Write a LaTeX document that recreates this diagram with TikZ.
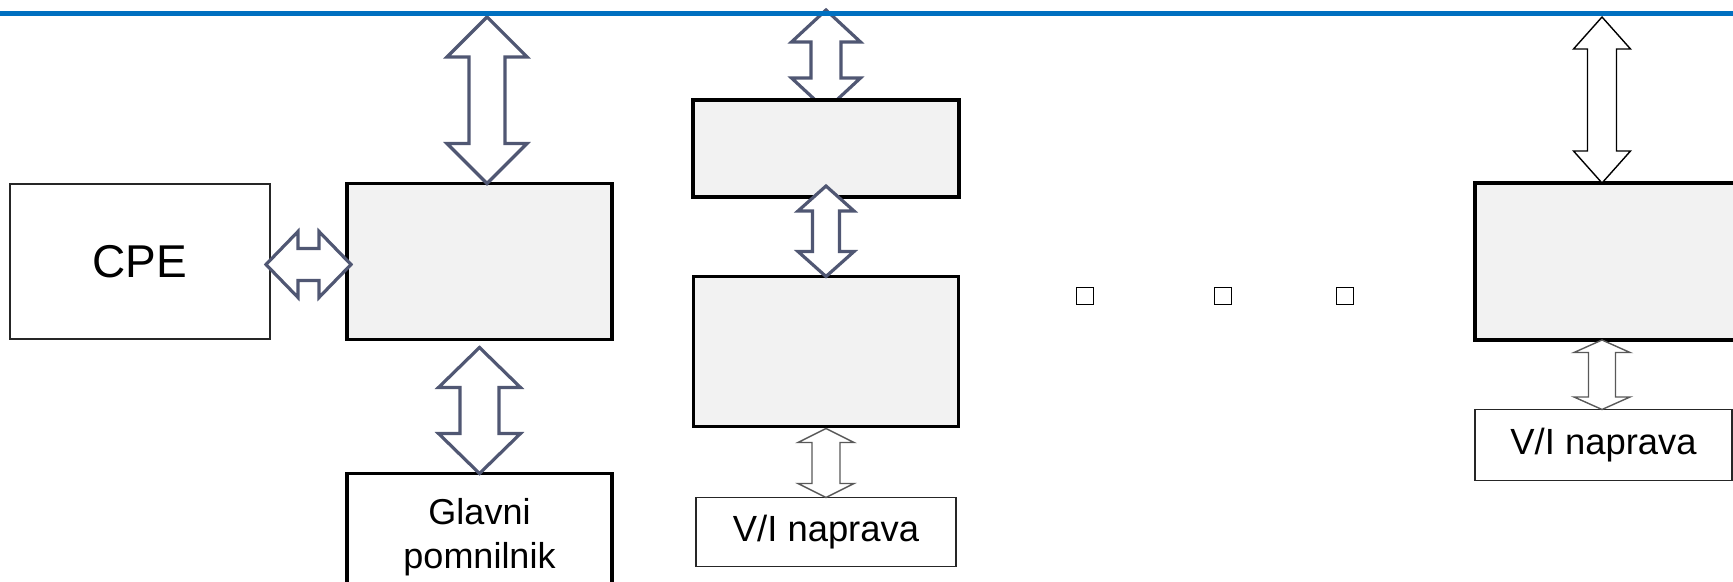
\documentclass[tikz,border=0pt]{standalone}
\usepackage{fontspec}
\setmainfont{Liberation Sans}
\usetikzlibrary{positioning, calc, backgrounds}

\definecolor{slate}{RGB}{80,87,115}
\definecolor{boxgray}{RGB}{242,242,242}
\definecolor{rulebl}{RGB}{0,112,192}

\newcommand{\vbus}[6][]{%
  \draw[bus,#1] (#2) -- ++(#4,#6) -- ++({#5-#4},0) -- ($(#3)+(#5,-#6)$)
    -- ++({#4-#5},0) -- (#3) -- ++(-#4,-#6) -- ++({#4-#5},0)
    -- ($(#2)+(-#5,#6)$) -- ++({#5-#4},0) -- cycle;}
\newcommand{\hbus}[6][]{%
  \draw[bus,#1] (#2) -- ++(#6,-#4) -- ++(0,{#4-#5}) -- ($(#3)+(-#6,-#5)$)
    -- ++(0,{#5-#4}) -- (#3) -- ++(-#6,#4) -- ++(0,{#5-#4})
    -- ($(#2)+(#6,#5)$) -- ++(0,{#4-#5}) -- cycle;}

\begin{document}
\begin{tikzpicture}[
  x=0.5pt, y=-0.5pt,
  unit/.style={draw, line width=1.75pt, fill=boxgray, inner sep=0pt, outer sep=0pt},
  plain/.style={draw=black!85, line width=0.8pt, fill=white, inner sep=0pt, outer sep=0pt},
  dotbox/.style={draw, line width=0.7pt, minimum size=8.5pt, inner sep=0pt},
  bus/.style={draw=slate, line width=1.6pt, fill=white, line join=miter},
  thinbus/.style={draw=black, line width=0.7pt},
  lightbus/.style={draw=black!65, line width=0.7pt}
]
\clip (0,0) rectangle (1733,582);

\node[plain, minimum width=130pt, minimum height=77.5pt,
  font=\fontsize{23}{27}\selectfont] (cpe) at (140,261.5) {CPE};
\node[unit, minimum width=132.5pt, minimum height=78pt, right=38.5pt of cpe] (pa1) {};
\node[unit, fill=white, minimum width=132.5pt, minimum height=64pt, below=67pt of pa1,
  align=center, font=\fontsize{18}{22}\selectfont] (mem) {Glavni\\pomnilnik};

\node[unit, minimum width=133pt, minimum height=48.5pt] (pa2) at (826,148.5) {};
\node[unit, minimum width=132.5pt, minimum height=75pt, below=39.75pt of pa2] (pa3) {};
\node[plain, minimum width=130pt, minimum height=34.5pt, below=35.5pt of pa3,
  font=\fontsize{18.2}{22}\selectfont] (io1) {V/I naprava};

\node[unit, minimum width=142.5pt, minimum height=78.5pt] (pa4) at (1617.5,261.5) {};
\node[plain, minimum width=128.5pt, minimum height=35.5pt,
  below right=34.75pt and 0pt of pa4.south west,
  font=\fontsize{18.2}{22}\selectfont] (io2) {V/I naprava};

\foreach \i/\x in {1/1085, 2/1223, 3/1345}
  \node[dotbox] (dot\i) at (\x,296) {};

\coordinate (b1t) at (487,17);
\coordinate (b1b) at (pa1.north -| b1t);
\coordinate (b2l) at ([shift={(-2pt,-1.5pt)}]cpe.east);
\coordinate (b2r) at ([shift={(2pt,-1.5pt)}]pa1.west);
\coordinate (b3t) at ([yshift=-4pt]pa1.south);
\coordinate (b4t) at (826,10);
\coordinate (b4b) at ([yshift=-5pt]pa2.north);
\coordinate (b5t) at ([yshift=5.5pt]pa2.south);
\coordinate (b6t) at ([yshift=-1pt]pa3.south);
\coordinate (b7t) at (1602,17);
\coordinate (b7b) at (pa4.north -| b7t);
\coordinate (b8t) at (pa4.south -| b7t);
\coordinate (b8b) at (io2.north -| b7t);

\vbus{b1t}{b1b}{40}{18}{40}
\hbus{b2l}{b2r}{33}{16}{32}
\vbus{b3t}{mem.north}{41}{19.5}{40}
\begin{scope}[on background layer]
\vbus{b4t}{b4b}{34.5}{15}{32}
\end{scope}
\vbus{b5t}{pa3.north}{28}{13.5}{25}
\vbus[lightbus]{b6t}{io1.north}{28}{14}{14}
\vbus[thinbus]{b7t}{b7b}{28.5}{14.5}{32}
\vbus[lightbus]{b8t}{b8b}{28}{13.5}{12.5}

\draw[rulebl, line width=2.5pt] (0,14) -- (1733,14);
\end{tikzpicture}
\end{document}
